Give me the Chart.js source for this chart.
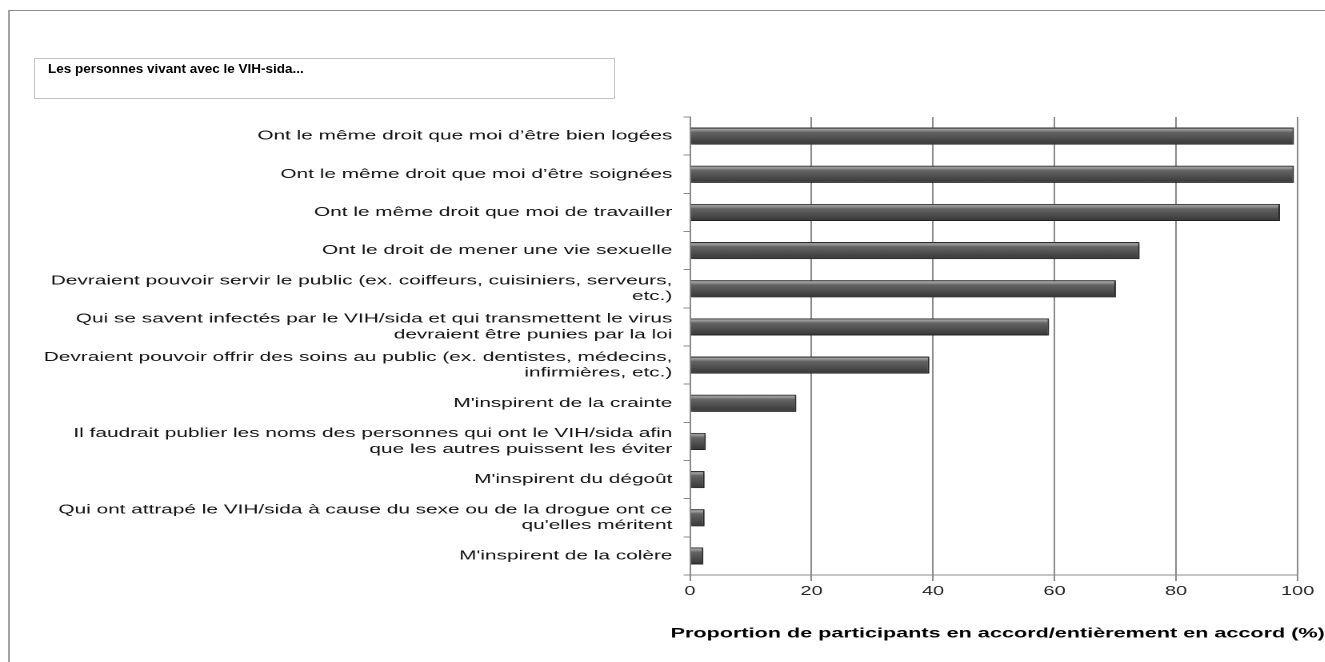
<!DOCTYPE html>
<html>
<head>
<meta charset="utf-8">
<script src="https://cdn.jsdelivr.net/npm/chart.js@4.4.0/dist/chart.umd.min.js"></script>
<style>
  body { margin: 0; background: #fff; overflow: hidden; width: 1325px; height: 662px; position: relative; }
  #frame { position: absolute; left: 8px; top: 10px; width: 1330px; height: 700px; border-left: 2px solid #a3a3a3; border-top: 1px solid #8c8c8c; }
  #titleBox { position: absolute; left: 34px; top: 58px; width: 566px; height: 37px; padding: 2px 0 0 13px; border: 1px solid #c4c4c4;
    font: bold 13.5px "Liberation Sans", Arial, sans-serif; color: #000; }
  #wrap { position: absolute; left: 0; top: 0; width: 828px; height: 662px; transform: scaleX(1.6); transform-origin: 0 0; }
</style>
</head>
<body>
<div id="frame"></div>
<div id="wrap"><canvas id="chart"></canvas></div>
<div id="titleBox">Les personnes vivant avec le VIH-sida...</div>
<script>
var categories = [
  "Ont le même droit que moi d’être bien logées",
  "Ont le même droit que moi d’être soignées",
  "Ont le même droit que moi de travailler",
  "Ont le droit de mener une vie sexuelle",
  ["Devraient pouvoir servir le public (ex. coiffeurs, cuisiniers, serveurs,", "etc.)"],
  ["Qui se savent infectés par le VIH/sida et qui transmettent le virus", "devraient être punies par la loi"],
  ["Devraient pouvoir offrir des soins au public (ex. dentistes, médecins,", "infirmières, etc.)"],
  "M'inspirent de la crainte",
  ["Il faudrait publier les noms des personnes qui ont le VIH/sida afin", "que les autres puissent les éviter"],
  "M'inspirent du dégoût",
  ["Qui ont attrapé le VIH/sida à cause du sexe ou de la drogue ont ce", "qu'elles méritent"],
  "M'inspirent de la colère"
];
var values = [99.4, 99.4, 97.1, 74.0, 70.1, 59.1, 39.4, 17.5, 2.6, 2.4, 2.4, 2.2];
var xTicks = [0, 20, 40, 60, 80, 100];
var xTitle = "Proportion de participants en accord/entièrement en accord (%)";

var barPct = 0.45;
var font = "'Liberation Sans', Arial, sans-serif";

// beveled grey look of the bars
function barFill(ctx) {
  var chart = ctx.chart;
  var yScale = chart.scales.y;
  if (!chart.chartArea || !yScale) return '#555';
  var y = yScale.getPixelForValue(ctx.dataIndex);
  var h = yScale.height / categories.length * barPct;
  var g = chart.ctx.createLinearGradient(0, y - h / 2, 0, y + h / 2);
  g.addColorStop(0, '#666');
  g.addColorStop(0.12, '#a0a0a0');
  g.addColorStop(0.28, '#646464');
  g.addColorStop(0.6, '#505050');
  g.addColorStop(1, '#363636');
  return g;
}

var shadow = {
  id: 'shadow',
  beforeDatasetsDraw: function(chart) {
    var c = chart.ctx;
    c.save();
    c.shadowColor = 'rgba(0,0,0,0.35)';
    c.shadowBlur = 4;
    c.shadowOffsetX = 2;
    c.shadowOffsetY = 3;
  },
  afterDatasetsDraw: function(chart) { chart.ctx.restore(); }
};

new Chart(document.getElementById('chart'), {
  type: 'bar',
  data: {
    labels: categories,
    datasets: [{
      data: values,
      backgroundColor: barFill,
      borderColor: '#333',
      borderWidth: 1,
      barPercentage: barPct,
      categoryPercentage: 1
    }]
  },
  plugins: [shadow],
  options: {
    indexAxis: 'y',
    responsive: true,
    maintainAspectRatio: false,
    animation: false,
    devicePixelRatio: 2,
    layout: { padding: { top: 117, right: 0, bottom: 0, left: 0 } },
    plugins: {
      legend: { display: false },
      tooltip: { enabled: false },
      title: {
        display: true, text: xTitle, position: 'bottom', align: 'end', color: '#000',
        padding: { top: 10, bottom: 19.9 },
        font: { family: font, size: 13.5, weight: 'bold' }
      }
    },
    scales: {
      x: {
        min: 0, max: 100,
        afterBuildTicks: function(scale) { scale.ticks = xTicks.map(function(v) { return { value: v }; }); },
        afterFit: function(scale) { scale.height = 40.9; scale.paddingRight = 17; },
        grid: { color: '#8a8a8a', lineWidth: 1, tickLength: 6 },
        border: { color: '#8a8a8a' },
        ticks: { color: '#222', padding: 3, font: { family: font, size: 12.5 } }
      },
      y: {
        afterFit: function(scale) { scale.width = 431.25; },
        grid: { drawOnChartArea: false, color: '#8a8a8a', tickLength: 4 },
        border: { color: '#8a8a8a' },
        ticks: { autoSkip: false, color: '#111', padding: 7, font: { family: font, size: 13 } }
      }
    }
  }
});
</script>
</body>
</html>
